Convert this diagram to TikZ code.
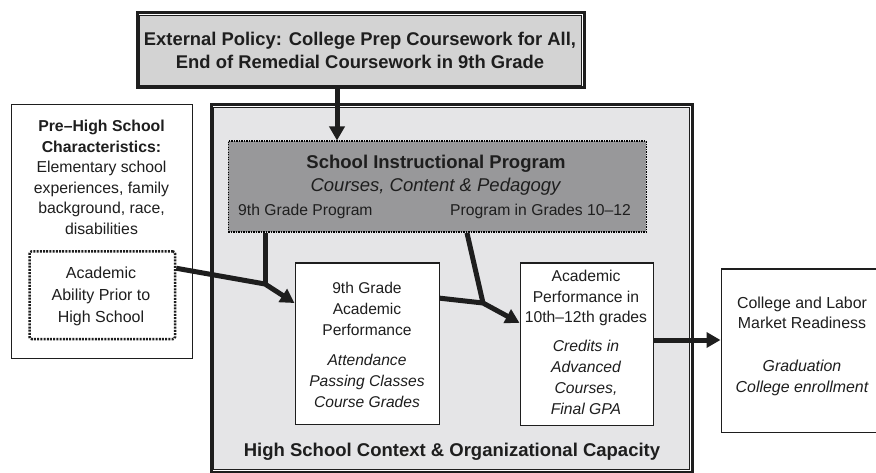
\documentclass[tikz,border=0pt]{standalone}
\usepackage{fontspec}
\setmainfont{Liberation Sans}
\usetikzlibrary{arrows.meta,calc}
\definecolor{topgray}{RGB}{211,211,211}
\definecolor{hsgray}{RGB}{229,229,231}
\definecolor{sipgray}{RGB}{152,152,154}
\definecolor{ink}{RGB}{30,30,30}
\tikzset{
  plainbox/.style={draw=ink, line width=1.1pt, fill=white, inner sep=0pt, anchor=north west},
  txt/.style={inner sep=0pt, align=center, text=ink},
  arr/.style={draw=ink, line width=5pt, -{Triangle[length=14pt,width=15pt]}},
  conn/.style={draw=ink, line width=5pt},
}
\begin{document}
\begin{tikzpicture}[x=1pt, y=-1pt]
\useasboundingbox (0,0) rectangle (876,473);
\clip (0,0) rectangle (876,473);
\fill[white] (0,0) rectangle (876,473);

% top policy box (double border)
\node[plainbox, line width=3pt, minimum width=447pt, minimum height=75pt] (topbox) at (135.5,11.5) {};
\draw[draw=ink, line width=1.2pt, fill=topgray] ($(topbox.north west)+(4.1,4.1)$) rectangle ($(topbox.south east)+(-4.1,-4.1)$);

% high school box (double border)
\node[plainbox, line width=3pt, minimum width=481pt, minimum height=367pt] (hsbox) at (209.5,103.5) {};
\draw[draw=ink, line width=1.2pt, fill=hsgray] ($(hsbox.north west)+(4.1,4.1)$) rectangle ($(hsbox.south east)+(-4.1,-4.1)$);

% school instructional program
\node[plainbox, fill=sipgray, draw=black, line width=1.4pt, dash pattern=on 1.3pt off 1.2pt, minimum width=418pt, minimum height=91pt] (sip) at (227.5,140.5) {};

% pre-high school box
\node[plainbox, line width=1pt, minimum width=181pt, minimum height=253pt] (pre) at (10.5,104.5) {};
\node[plainbox, line width=2.5pt, dash pattern=on 2pt off 1.2pt, rounded corners=2pt, minimum width=145.5pt, minimum height=87.5pt] (ability) at (28.25,250.25) {};

% performance boxes
\node[plainbox, minimum width=144pt, minimum height=161pt] (ninth) at (294.5,262.5) {};
\node[plainbox, minimum width=133pt, minimum height=162pt] (tenth) at (519.5,262.5) {};
\node[plainbox, minimum width=170pt, minimum height=163pt] (college) at (720.5,268.5) {};

% helper coordinates
\coordinate (j1) at (265,284);
\coordinate (j2) at (483,303);
\coordinate (stemA) at (337,0);
\coordinate (arrY) at (0,340);

% connectors
\draw[arr] (topbox.south -| stemA) -- (sip.north -| stemA);
\draw[conn] (sip.south -| j1) -- (j1);
\draw[arr] ($(ability.north east)!0.2!(ability.south east)$) -- (j1) -- ($(ninth.north west)!0.25!(ninth.south west)$);
\draw[conn] ($(sip.south west)!0.571!(sip.south east)$) -- (j2);
\draw[arr] ($(ninth.north east)!0.22!(ninth.south east)$) -- (j2) -- ($(tenth.north west)!0.37!(tenth.south west)$);
\draw[arr] (tenth.east |- arrY) -- (college.west |- arrY);

% texts
\node[txt, font=\bfseries\fontsize{18.4}{23}\selectfont, anchor=north] (toptext) at (360,32.4)
  {External Policy: College Prep Coursework for All,\\End of Remedial Coursework in 9th Grade};
\node[txt, font=\fontsize{15.8}{20.6}\selectfont, anchor=north] (pretext) at (101.5,119.8)
  {\textbf{Pre–High School}\\\textbf{Characteristics:}\\Elementary school\\experiences, family\\background, race,\\disabilities};
\node[txt, font=\fontsize{16}{22}\selectfont, anchor=north] (abilitytext) at (101,267)
  {Academic\\Ability Prior to\\High School};
\node[txt, font=\fontsize{18.5}{23}\selectfont, anchor=north] (siptitle) at (436,154.4)
  {\textbf{School Instructional Program}\\\textit{Courses, Content \& Pedagogy}};
\node[txt, font=\fontsize{15.7}{20}\selectfont, anchor=base west] (sipleft) at (238,216) {9th Grade Program};
\node[txt, font=\fontsize{15.7}{20}\selectfont, anchor=base west] (sipright) at (450,216) {Program in Grades 10–12};
\node[txt, font=\fontsize{15.6}{21}\selectfont, anchor=north] (ninthA) at (367,281.5)
  {9th Grade\\Academic\\Performance};
\node[txt, font=\itshape\fontsize{15.6}{21}\selectfont, anchor=north] (ninthB) at (367,353.5)
  {Attendance\\Passing Classes\\Course Grades};
\node[txt, font=\fontsize{15.7}{20.5}\selectfont, anchor=north] (tenthA) at (586,270.4)
  {Academic\\Performance in\\10th–12th grades};
\node[txt, font=\itshape\fontsize{15.7}{21}\selectfont, anchor=north] (tenthB) at (586,340.4)
  {Credits in\\Advanced\\Courses,\\Final GPA};
\node[txt, font=\fontsize{15.9}{20}\selectfont, anchor=north] (collegeA) at (802,296.4)
  {College and Labor\\Market Readiness};
\node[txt, font=\itshape\fontsize{15.9}{21}\selectfont, anchor=north] (collegeB) at (802,359.4)
  {Graduation\\College enrollment};
\node[txt, font=\bfseries\fontsize{18.5}{22}\selectfont, anchor=base] (hslabel) at (452,456)
  {High School Context \& Organizational Capacity};
\end{tikzpicture}
\end{document}
